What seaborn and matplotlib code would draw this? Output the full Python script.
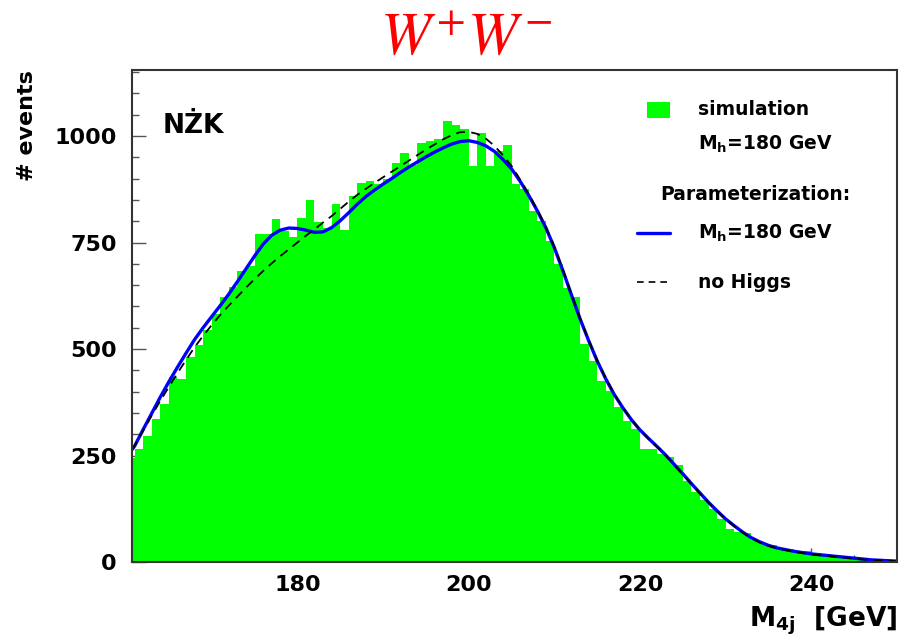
import numpy as np
import pandas as pd
import matplotlib
matplotlib.use("Agg")
import matplotlib.pyplot as plt
from matplotlib.patches import Rectangle
from matplotlib.lines import Line2D
import seaborn as sns

# ---------------- data ----------------
bin_left = list(range(160, 250))  # 1 GeV bins
sim_counts = [245, 265, 295, 335, 372, 434, 430, 482, 510, 545,
              582, 622, 645, 684, 695, 770, 770, 806, 778, 762,
              808, 850, 797, 783, 840, 780, 860, 890, 895, 888,
              900, 937, 960, 932, 984, 988, 993, 1035, 1025, 1016,
              930, 1008, 930, 965, 980, 887, 876, 824, 800, 754,
              700, 644, 621, 512, 473, 426, 402, 363, 332, 313,
              265, 265, 254, 246, 227, 191, 164, 145, 125, 102,
              78, 70, 67, 51, 43, 40, 33, 30, 24, 26,
              18, 16, 15, 12, 10, 9, 6, 6, 4, 3]

curve_x = [160.7] + list(range(161, 251))
param_mh180 = [264, 272, 311, 349, 387, 423, 457, 490, 522, 550, 576,
               602, 629, 658, 688, 718, 746, 767, 779, 784, 783,
               779, 774, 775, 785, 801, 820, 840, 858, 873, 887,
               900, 914, 927, 939, 951, 962, 972, 981, 987, 989,
               985, 977, 964, 945, 923, 894, 861, 825, 785, 738,
               684, 627, 571, 520, 472, 430, 393, 362, 334, 310,
               290, 271, 251, 229, 207, 184, 162, 140, 120, 101,
               85, 70, 57, 47, 39, 33, 29, 25, 22, 19,
               17, 15, 13, 11, 9, 7, 5, 4, 3, 2]
no_higgs = [264, 272, 308, 344, 378, 411, 443, 474, 504, 531, 556,
            580, 602, 623, 644, 664, 683, 701, 718, 734, 750,
            766, 781, 797, 812, 829, 846, 862, 876, 890, 903,
            916, 929, 942, 955, 968, 980, 992, 1002, 1009, 1010,
            1005, 994, 977, 955, 930, 898, 864, 827, 787, 740,
            686, 629, 573, 521, 473, 431, 394, 362, 334, 310,
            289, 270, 250, 228, 206, 183, 161, 139, 119, 100,
            84, 69, 56, 46, 38, 32, 28, 24, 21, 18,
            16, 14, 12, 10, 8, 6, 5, 4, 3, 2]

x_major = [180, 200, 220, 240]
y_major = [0, 250, 500, 750, 1000]

# ---------------- style ----------------
sns.set_style("ticks")
plt.rcParams['font.family'] = ['DejaVu Sans']
plt.rcParams['font.weight'] = 'normal'
plt.rcParams['text.color'] = 'black'
plt.rcParams['xtick.color'] = 'black'
plt.rcParams['ytick.color'] = 'black'
plt.rcParams['axes.labelcolor'] = 'black'
plt.rcParams['mathtext.fontset'] = 'custom'
plt.rcParams['mathtext.rm'] = 'DejaVu Sans:bold'
plt.rcParams['mathtext.it'] = 'DejaVu Sans:bold'
plt.rcParams['mathtext.bf'] = 'DejaVu Sans:bold'

fig = plt.figure(figsize=(8.99, 6.42), dpi=100)
ax = fig.add_axes([0.14683, 0.12461, 0.85095, 0.76636])

df_hist = pd.DataFrame({"m": np.array(bin_left) + 0.5, "n": sim_counts})
edges = list(bin_left) + [bin_left[-1] + 1]
sns.histplot(data=df_hist, x="m", weights="n", bins=edges, element="step",
             fill=True, color="#00ff00", alpha=1.0, linewidth=0, ax=ax)

df_curve = pd.DataFrame({"m": curve_x, "mh": param_mh180, "nh": no_higgs})
sns.lineplot(data=df_curve, x="m", y="mh", color="#0000ff", linewidth=2.4, ax=ax)
sns.lineplot(data=df_curve, x="m", y="nh", color="black", linewidth=1.3, ax=ax)
ax.lines[-1].set_dashes([5, 3.5])

ax.set_xlim(160.7, 250)
ax.set_ylim(0, 1155)
ax.set_xticks(x_major)
ax.set_yticks(y_major)
ax.set_xticks(np.arange(165, 250, 5), minor=True)
ax.set_yticks(np.arange(0, 1155, 50), minor=True)
ax.tick_params(axis='both', which='major', direction='in', length=10, width=1.0,
               labelsize=16, color='#555555', labelcolor='black')
ax.tick_params(axis='both', which='minor', direction='in', length=5, width=1.0,
               color='#555555')
ax.tick_params(axis='x', which='major', pad=9)
ax.tick_params(axis='y', which='major', pad=11)
for lab in ax.get_xticklabels() + ax.get_yticklabels():
    lab.set_fontweight('bold')
for sp in ax.spines.values():
    sp.set_visible(True)
    sp.set_linewidth(1.5)
    sp.set_color('#333333')
ax.set_xlabel("")
ax.set_ylabel("")

# axis titles
fig.text(0.998, 0.0234, "M$_\\mathrm{4j}$  [GeV]", ha='right', va='baseline',
         fontsize=19, fontweight='bold', color='black')
fig.text(27 / 899, 1 - 70 / 642, "# events", rotation=90, ha='center', va='top',
         fontsize=16, fontweight='bold', color='black')

# title
fig.text(0.518, 0.914, "$W^{+}W^{-}$", ha='center', va='baseline', color='red',
         fontsize=43, fontweight='normal', math_fontfamily='stix')

# NZK label
ax.text(0.0405, 0.872, "NŻK", transform=ax.transAxes, fontsize=19,
        fontweight='bold', ha='left', va='baseline', color='black')

# legend (manual)
ax.add_patch(Rectangle((0.673, 0.902), 0.030, 0.033, transform=ax.transAxes,
                       facecolor='#00ff00', edgecolor='none'))
ax.add_line(Line2D([0.660, 0.703], [0.669, 0.669], transform=ax.transAxes,
                   color='#0000ff', linewidth=2.4))
dl = Line2D([0.660, 0.703], [0.569, 0.569], transform=ax.transAxes,
            color='black', linewidth=1.2)
dl.set_dashes([4, 3])
ax.add_line(dl)
fs = 13.5
kw = dict(transform=ax.transAxes, fontsize=fs, fontweight='bold', va='center',
          ha='left', color='black')
ax.text(0.740, 0.919, "simulation", **kw)
ax.text(0.740, 0.848, "M$_\\mathrm{h}$=180 GeV", **kw)
ax.text(0.690, 0.746, "Parameterization:", **kw)
ax.text(0.740, 0.669, "M$_\\mathrm{h}$=180 GeV", **kw)
ax.text(0.740, 0.569, "no Higgs", **kw)

fig.savefig("out.png", dpi=100)
